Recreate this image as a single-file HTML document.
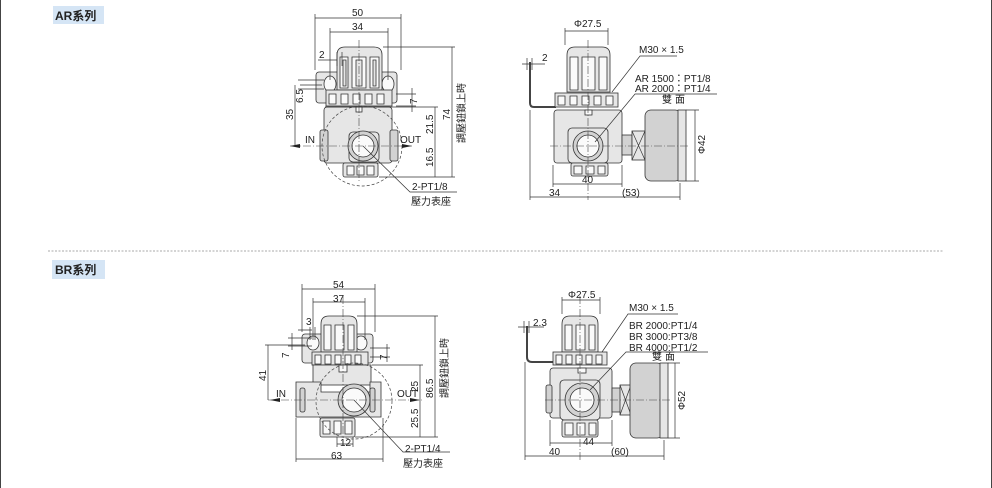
<!DOCTYPE html>
<html><head><meta charset="utf-8"><style>
html,body{margin:0;padding:0;background:#fff;}
body{width:992px;height:488px;overflow:hidden;position:relative;}
svg{position:absolute;left:0;top:0;}
text{font-family:"Liberation Sans","Noto Sans CJK TC",sans-serif;font-size:10px;fill:#222;}
.t{font-size:10px;}
.ln{stroke:#333;stroke-width:0.7;fill:none;}
.cl{stroke:#444;stroke-width:0.6;fill:none;stroke-dasharray:8 2 1 2;}
.dc{stroke:#444;stroke-width:0.7;fill:none;stroke-dasharray:3 2;}
.b{fill:#e6e6e6;stroke:#333;stroke-width:0.8;}
.d{fill:#d2d2d2;stroke:#333;stroke-width:0.8;}
.w{fill:#fafafa;stroke:#333;stroke-width:0.8;}
</style></head><body>
<svg width="992" height="488" viewBox="0 0 992 488">
<line x1="0.5" y1="0" x2="0.5" y2="488" stroke="#444"/>
<line x1="991.5" y1="0" x2="991.5" y2="488" stroke="#444"/>
<line x1="48" y1="251" x2="943" y2="251" stroke="#aaa" stroke-dasharray="2 1.5"/>
<rect x="53" y="6" width="51" height="18" fill="#d5e5f5"/>
<text x="55" y="20" style="font-size:12px;font-weight:bold;fill:#222">AR系列</text>
<rect x="52" y="260" width="53" height="19" fill="#d5e5f5"/>
<text x="55" y="274" style="font-size:12px;font-weight:bold;fill:#222">BR系列</text>

<!-- ===== AR front ===== -->
<g>
<rect class="b" x="316" y="72" width="81" height="31" rx="3"/>
<ellipse class="w" cx="330" cy="84" rx="6" ry="8"/><ellipse class="w" cx="388" cy="84" rx="6" ry="8"/>
<path class="b" d="M337 90 V55 Q337 47 345 47 H374 Q382 47 382 55 V90 Z"/>
<path class="w" d="M340 88 V57 H348 V88 Z M352 88 V57 H366 V88 Z M370 88 V57 H379 V88 Z"/>
<path class="b" d="M343 86 V60 H346 V86 Z M356 86 V60 H362 V86 Z M373 86 V60 H376 V86 Z"/>
<rect class="b" x="326" y="90" width="66" height="16"/>
<path class="w" d="M329 94h7v10h-7z M341 94h7v10h-7z M353 94h7v10h-7z M365 94h7v10h-7z M377 94h7v10h-7z"/>
<rect class="b" x="324" y="107" width="68" height="56" rx="3"/>
<rect class="d" x="320" y="130" width="8" height="31" rx="2"/><rect class="d" x="390" y="130" width="8" height="31" rx="2"/>
<rect class="w" x="356" y="107" width="6" height="5"/>
<rect class="b" x="349" y="132" width="30" height="30" rx="4"/>
<circle class="d" cx="363" cy="146" r="15"/><circle class="w" cx="363" cy="146" r="11"/>
<rect class="b" x="343" y="163" width="35" height="14" rx="2"/>
<path class="w" d="M347 166h7v9h-7z M357 166h7v9h-7z M367 166h7v9h-7z"/>
<circle class="dc" cx="362" cy="146" r="40"/>
<line class="cl" x1="290" y1="146" x2="412" y2="146"/><line class="cl" x1="359" y1="40" x2="359" y2="182"/>
<!-- dims -->
<path class="ln" d="M315 70V14 M401 70V14 M315 18H401 M330 80V28 M388 80V28 M330 32H388 M383 47H455 M325 107H438 M379 177H455 M452 47V177 M435 107V177 M300 85H322 M295 85V146 M298 80H324 M298 89H324 M396 94H416 M396 106H416 M412 88V112"/>
<path class="ln" d="M337 52V66 M342 52V66 M318 60H337"/>
<path class="ln" d="M363 146L410 192H457"/>
<path d="M290 146l10-2v4z M412 146l-10-2v4z" fill="#222"/>
<text x="352" y="16">50</text><text x="352" y="30">34</text><text x="319" y="58">2</text>
<text transform="translate(293,120) rotate(-90)">35</text>
<text transform="translate(303,103) rotate(-90)">6.5</text>
<text transform="translate(417,104) rotate(-90)">7</text>
<text transform="translate(433,134) rotate(-90)">21.5</text>
<text transform="translate(433,167) rotate(-90)">16.5</text>
<text transform="translate(450,120) rotate(-90)">74</text>
<text transform="translate(465,143) rotate(-90)">調壓鈕鎖上時</text>
<text x="305" y="143">IN</text><text x="400" y="143">OUT</text>
<text x="412" y="190">2-PT1/8</text><text x="411" y="205">壓力表座</text>
</g>

<!-- ===== AR side ===== -->
<g>
<path class="ln" d="M530 62V103Q530 107 534 107H556" style="stroke-width:2;stroke:#444"/>
<path class="ln" d="M522 64H545 M527 58V70 M532 58V70"/>
<text x="542" y="61">2</text>
<path class="b" d="M567 92V55Q567 47 575 47H602Q610 47 610 55V92Z"/>
<path class="w" d="M570 90V57H578V90Z M582 90V57H595V90Z M599 90V57H607V90Z"/>
<rect class="b" x="555" y="93" width="63" height="14"/>
<path class="w" d="M558 96h7v9h-7z M570 96h7v9h-7z M582 96h7v9h-7z M594 96h7v9h-7z M606 96h7v9h-7z"/>
<rect class="b" x="554" y="110" width="68" height="53" rx="3"/>
<rect class="w" x="585" y="110" width="7" height="5"/>
<rect class="b" x="568" y="128" width="40" height="35" rx="4"/>
<circle class="d" cx="588" cy="146" r="15"/><circle class="w" cx="588" cy="146" r="11"/>
<rect class="b" x="571" y="163" width="37" height="13" rx="2"/>
<path class="w" d="M574 166h8v8h-8z M586 166h8v8h-8z M598 166h7v8h-7z"/>
<rect class="d" x="622" y="135" width="10" height="20"/>
<rect class="b" x="632" y="131" width="13" height="29"/><path class="ln" d="M632 131L645 160M645 131L632 160"/>
<rect class="d" x="645" y="110" width="36" height="71" rx="6"/>
<rect class="b" x="678" y="110" width="8" height="71"/>
<line class="cl" x1="550" y1="146" x2="690" y2="146"/><line class="cl" x1="588" y1="40" x2="588" y2="200"/>
<path class="ln" d="M565 28V45 M608 28V45 M565 31H608 M686 110H699 M686 181H699 M695 110V181 M553 165V187 M622 165V187 M553 184H622 M530 110V200 M680 183V200 M530 197H680"/>
<path class="ln" d="M612 92L640 56H677 M595 142L635 94H717"/>
<text x="574" y="27">Φ27.5</text><text x="639" y="53">M30 × 1.5</text>
<text x="635" y="82">AR 1500：PT1/8</text><text x="635" y="92">AR 2000：PT1/4</text>
<text x="662" y="103" style="letter-spacing:3px">雙面</text>
<text transform="translate(705,154) rotate(-90)">Φ42</text>
<text x="582" y="183">40</text><text x="549" y="196">34</text><text x="622" y="196">(53)</text>
</g>

<!-- ===== BR front ===== -->
<g>
<rect class="b" x="302" y="334" width="71" height="29" rx="3"/>
<ellipse class="w" cx="313" cy="343" rx="6" ry="7"/><ellipse class="w" cx="361" cy="343" rx="6" ry="7"/>
<path class="b" d="M321 352V324Q321 316 329 316H349Q357 316 357 324V352Z"/>
<path class="w" d="M324 350V325H331V350Z M335 350V325H344V350Z M348 350V325H354V350Z"/>
<rect class="b" x="312" y="352" width="56" height="13"/>
<path class="w" d="M315 355h6v9h-6z M325 355h6v9h-6z M335 355h6v9h-6z M345 355h6v9h-6z M355 355h6v9h-6z"/>
<rect class="b" x="313" y="365" width="58" height="20"/>
<path class="b" d="M296 382H321V392H370V382H381V417H296Z"/>
<rect class="w" x="339" y="365" width="8" height="7"/>
<rect class="d" x="300" y="388" width="5" height="24" rx="2"/><rect class="d" x="370" y="388" width="5" height="24" rx="2"/>
<circle class="d" cx="354" cy="400" r="16"/><circle class="w" cx="354" cy="400" r="12"/>
<rect class="b" x="320" y="418" width="35" height="19" rx="2"/>
<path class="w" d="M323 421h7v13h-7z M334 421h7v13h-7z M345 421h7v13h-7z"/>
<circle class="dc" cx="354" cy="401" r="38"/>
<line class="cl" x1="268" y1="400" x2="422" y2="400"/><line class="cl" x1="343" y1="296" x2="343" y2="445"/>
<path class="ln" d="M302 332V284 M375 332V284 M302 289H375 M313 340V298 M365 340V298 M313 302H365 M357 316H438 M372 365H423 M355 437H438 M435 316V437 M420 365V437 M265 345H305 M268 345V400 M288 338H312 M288 346H312 M292 333V350 M370 348H390 M370 357H390 M387 344V362"/>
<path class="ln" d="M310 327V340 M315 327V340 M298 330H312"/>
<path class="ln" d="M337 437V447 M353 437V447 M337 444H353 M296 418V462 M383 418V462 M296 459H383"/>
<path class="ln" d="M354 400L403 452H450"/>
<path d="M270 400l10-2v4z M420 400l-10-2v4z" fill="#222"/>
<text x="333" y="288">54</text><text x="333" y="302">37</text><text x="306" y="325">3</text>
<text transform="translate(266,381) rotate(-90)">41</text>
<text transform="translate(289,358) rotate(-90)">7</text>
<text transform="translate(387,360) rotate(-90)">7</text>
<text transform="translate(418,392) rotate(-90)">25</text>
<text transform="translate(418,428) rotate(-90)">25.5</text>
<text transform="translate(433,398) rotate(-90)">86.5</text>
<text transform="translate(448,398) rotate(-90)">調壓鈕鎖上時</text>
<text x="276" y="397">IN</text><text x="397" y="397">OUT</text>
<text x="340" y="446">12</text><text x="331" y="459">63</text>
<text x="405" y="452">2-PT1/4</text><text x="403" y="467">壓力表座</text>
</g>

<!-- ===== BR side ===== -->
<g>
<path class="ln" d="M527 326V357Q527 362 532 362H553" style="stroke-width:2;stroke:#444"/>
<path class="ln" d="M518 327H544 M524 321V333 M529 321V333"/>
<text x="533" y="326">2.3</text>
<path class="b" d="M562 352V324Q562 316 570 316H590Q598 316 598 324V352Z"/>
<path class="w" d="M565 350V325H572V350Z M576 350V325H585V350Z M589 350V325H595V350Z"/>
<rect class="b" x="553" y="352" width="54" height="13"/>
<path class="w" d="M556 355h6v9h-6z M566 355h6v9h-6z M576 355h6v9h-6z M586 355h6v9h-6z M596 355h6v9h-6z"/>
<rect class="b" x="550" y="368" width="62" height="50" rx="3"/>
<rect class="d" x="546" y="385" width="6" height="28" rx="2"/>
<rect class="w" x="578" y="368" width="8" height="5"/>
<rect class="b" x="560" y="380" width="40" height="40" rx="4"/>
<circle class="d" cx="582" cy="400" r="17"/><circle class="w" cx="582" cy="400" r="12"/>
<rect class="b" x="562" y="420" width="36" height="17" rx="2"/>
<path class="w" d="M565 423h8v12h-8z M577 423h8v12h-8z M589 423h7v12h-7z"/>
<rect class="d" x="612" y="388" width="9" height="24"/>
<rect class="b" x="620" y="385" width="11" height="30"/><path class="ln" d="M620 385L631 415M631 385L620 415"/>
<rect class="d" x="630" y="363" width="33" height="75" rx="6"/>
<rect class="b" x="660" y="363" width="8" height="75"/>
<line class="cl" x1="545" y1="400" x2="670" y2="400"/><line class="cl" x1="580" y1="296" x2="580" y2="460"/>
<path class="ln" d="M562 297V314 M600 297V314 M562 300H600 M668 363H680 M668 438H680 M675 363V438 M550 420V446 M612 420V446 M550 443H612 M525 362V460 M664 440V460 M525 456H664"/>
<path class="ln" d="M602 352L628 314H678 M590 390L626 352H708"/>
<text x="568" y="298">Φ27.5</text><text x="629" y="311">M30 × 1.5</text>
<text x="629" y="329">BR 2000:PT1/4</text><text x="629" y="340">BR 3000:PT3/8</text><text x="629" y="351">BR 4000:PT1/2</text>
<text x="652" y="360" style="letter-spacing:3px">雙面</text>
<text transform="translate(685,410) rotate(-90)">Φ52</text>
<text x="583" y="445">44</text><text x="549" y="455">40</text><text x="611" y="455">(60)</text>
</g>
</svg>
</body></html>
